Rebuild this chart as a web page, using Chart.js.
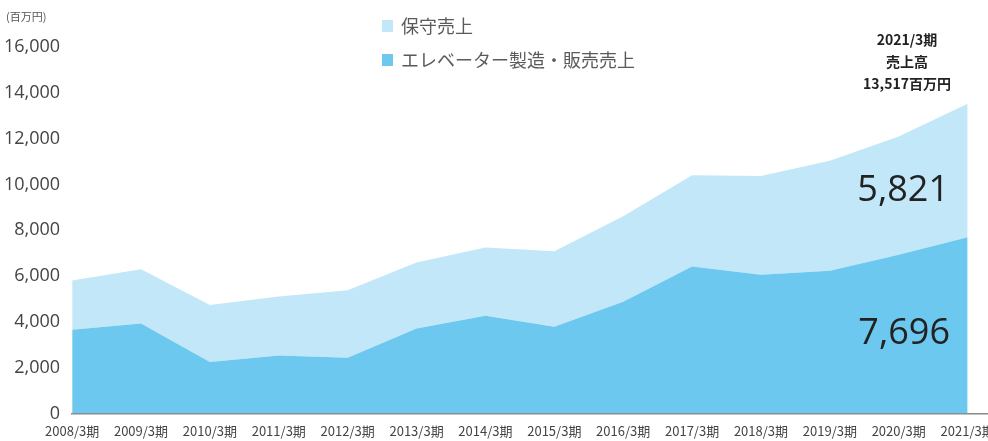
<!DOCTYPE html>
<html lang="ja">
<head>
<meta charset="utf-8">
<script src="https://cdn.jsdelivr.net/npm/chart.js@4/dist/chart.umd.min.js"></script>
<style>
    html, body { margin: 0; padding: 0; background: #fff; overflow: hidden; }
    #wrap { position: relative; width: 1000px; height: 441px; }
</style>
</head>
<body>
<div id="wrap"><canvas id="sales-chart" width="1000" height="441"></canvas></div>
<script>
// data (百万円)
const periods = ["2008/3期", "2009/3期", "2010/3期", "2011/3期", "2012/3期", "2013/3期", "2014/3期",
                 "2015/3期", "2016/3期", "2017/3期", "2018/3期", "2019/3期", "2020/3期", "2021/3期"];
const elevatorSales = [3650, 3930, 2240, 2530, 2430, 3710, 4260, 3780, 4880, 6420, 6050, 6230, 6930, 7696];
const maintenanceSales = [2150, 2370, 2490, 2570, 2950, 2880, 2980, 3300, 3730, 3980, 4320, 4800, 5160, 5821];
const yTickValues = [0, 2000, 4000, 6000, 8000, 10000, 12000, 14000, 16000];

const seriesNames = ["保守売上", "エレベーター製造・販売売上"];
const LIGHT = "#c1e7f8";
const DARK = "#6cc8ef";
const FONT = "'Noto Sans CJK JP', 'Noto Sans', sans-serif";

// draws unit label, legend and annotations
const overlayPlugin = {
    id: "overlay",
    afterDraw(chart) {
        const ctx = chart.ctx;
        ctx.save();
        ctx.fillStyle = "#555";
        ctx.font = `11px ${FONT}`;
        ctx.textBaseline = "middle";
        ctx.textAlign = "left";
        ctx.fillText("(百万円)", 6, 17);

        // legend
        const legendColors = [LIGHT, DARK];
        seriesNames.forEach((name, i) => {
            const y = 26 + i * 34;
            ctx.fillStyle = legendColors[i];
            ctx.fillRect(382, y - 6, 11, 12);
            ctx.fillStyle = "#5a5a5a";
            ctx.font = `18px ${FONT}`;
            ctx.fillText(name, 401, y);
        });

        // total annotation
        ctx.fillStyle = "#222";
        ctx.textAlign = "center";
        ctx.font = `bold 14px ${FONT}`;
        ctx.fillText("2021/3期", 907, 40);
        ctx.fillText("売上高", 907, 62);
        ctx.fillText("13,517百万円", 907, 84);

        // series values for latest period
        const last = elevatorSales.length - 1;
        ctx.textAlign = "right";
        ctx.font = `36px 'Open Sans', ${FONT}`;
        ctx.fillText(maintenanceSales[last].toLocaleString("en-US"), 949, 191);
        ctx.fillText(elevatorSales[last].toLocaleString("en-US"), 950, 334);
        ctx.restore();
    }
};

const ctx = document.getElementById("sales-chart").getContext("2d");

new Chart(ctx, {
    type: "line",
    data: {
        datasets: [
            {
                label: seriesNames[1],
                data: elevatorSales.map((v, i) => ({ x: i, y: v })),
                backgroundColor: DARK,
                borderWidth: 0,
                pointRadius: 0,
                fill: "origin",
                order: 1
            },
            {
                label: seriesNames[0],
                data: maintenanceSales.map((v, i) => ({ x: i, y: v })),
                backgroundColor: LIGHT,
                borderWidth: 0,
                pointRadius: 0,
                fill: "-1",
                order: 2
            }
        ]
    },
    options: {
        responsive: false,
        animation: false,
        layout: { padding: { top: 47, left: 0, right: 0, bottom: 0 } },
        plugins: {
            legend: { display: false },
            tooltip: { enabled: false }
        },
        scales: {
            x: {
                type: "linear",
                min: 0,
                max: 13.47,
                afterBuildTicks: (scale) => {
                    scale.ticks = periods.map((_, i) => ({ value: i }));
                },
                grid: { display: false },
                border: { display: true, color: "#8a8a8a", width: 1.5 },
                ticks: {
                    autoSkip: false,
                    maxRotation: 0,
                    padding: 2,
                    color: "#444",
                    font: { family: FONT, size: 13 },
                    callback: (value) => periods[value]
                }
            },
            y: {
                stacked: true,
                min: 0,
                max: 16000,
                afterBuildTicks: (scale) => {
                    scale.ticks = yTickValues.map(v => ({ value: v }));
                },
                grid: { display: false },
                border: { display: false },
                ticks: {
                    padding: 4,
                    color: "#444",
                    font: { family: "'Open Sans', sans-serif", size: 18 },
                    callback: (value) => value.toLocaleString("en-US")
                }
            }
        }
    },
    plugins: [overlayPlugin]
});
</script>
</body>
</html>
